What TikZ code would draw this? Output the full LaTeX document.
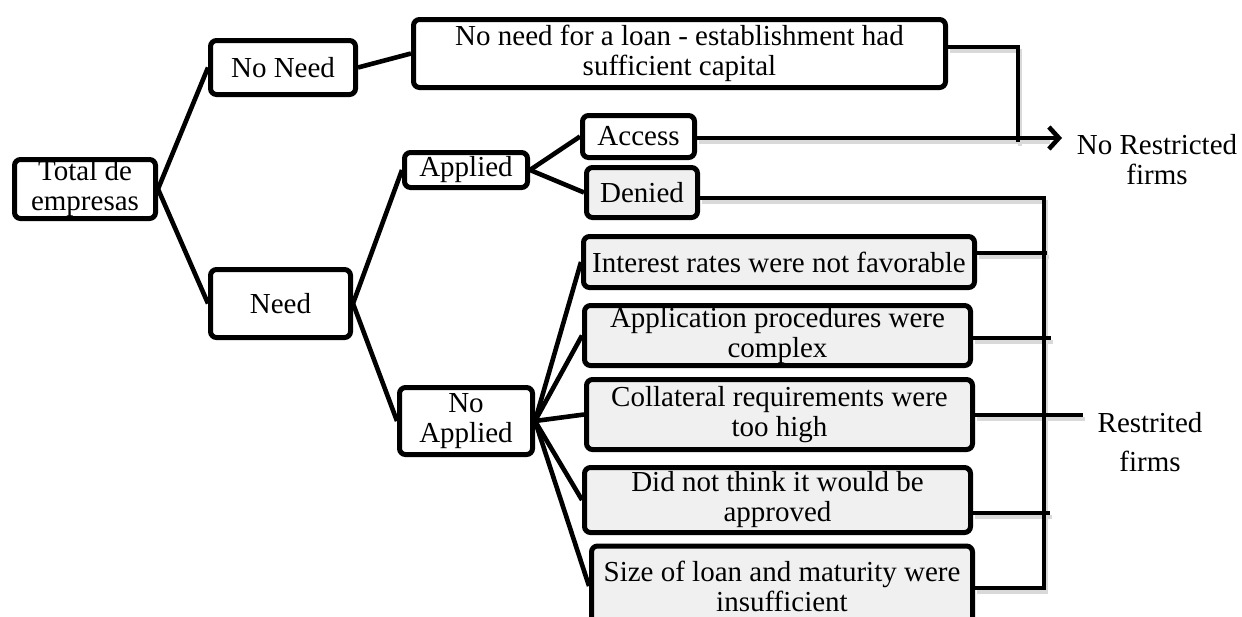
\documentclass[tikz,border=0pt]{standalone}
\usepackage{fontspec}
\setmainfont{Liberation Serif}
\usetikzlibrary{arrows.meta}
\tikzset{
 box/.style={draw, line width=5pt, rounded corners=6pt, inner sep=0pt, align=center, font=\fontsize{29}{30}\selectfont},
 graybox/.style={box, fill=black!6},
 conn/.style={line width=4.6pt},
 shadowline/.style={line width=4.6pt, draw=black!15},
 lbl/.style={align=center, font=\fontsize{29}{30}\selectfont, inner sep=0pt},
}
\begin{document}
\begin{tikzpicture}[x=1pt,y=-1pt]
\useasboundingbox (0,0) rectangle (1242,616);
\clip (0,0) rectangle (1242,616);
% nodes
\node[box, minimum width=141pt, minimum height=59pt] (total) at (85,189) {Total de\\empresas};
\node[box, minimum width=145pt, minimum height=54pt] (noneed) at (283,67.5) {No Need};
\node[box, minimum width=140pt, minimum height=68pt] (need) at (280.5,303.5) {Need};
\node[box, minimum width=532pt, minimum height=68pt] (loanbox) at (679.5,53.5) {No need for a loan - establishment had\\sufficient capital};
\node[box, minimum width=123pt, minimum height=35pt] (applied) at (466,170) {Applied};
\node[box, minimum width=112pt, minimum height=42pt] (access) at (638.5,136.5) {Access};
\node[graybox, minimum width=111pt, minimum height=50pt] (denied) at (642,192.5) {Denied};
\node[box, minimum width=133pt, minimum height=67pt] (noapplied) at (466,421) {No\\Applied};
\node[graybox, minimum width=391pt, minimum height=51pt] (interest) at (779,262) {Interest rates were not favorable};
\node[graybox, minimum width=386pt, minimum height=60pt] (application) at (777.5,335.5) {Application procedures were\\complex};
\node[graybox, minimum width=386pt, minimum height=70pt] (collateral) at (779.5,414.5) {Collateral requirements were\\too high};
\node[graybox, minimum width=386pt, minimum height=65pt] (didnot) at (777.5,500) {Did not think it would be\\approved};
\node[graybox, minimum width=381pt, minimum height=80pt] (size) at (782,586) {Size of loan and maturity were\\insufficient};
\node[lbl] (nrf) at (1157,160) {No Restricted\\firms};
\node[lbl, font=\fontsize{29}{39}\selectfont] (rf) at (1150,442.5) {Restrited\\firms};
% coordinates
\coordinate (nrA) at (1018,47);
\coordinate (nrB) at (1018,142);
\coordinate (tip) at (1062,138);
\coordinate (rTop) at (1044,198);
\coordinate (rBot) at (1044,588);
\coordinate (rI) at (1047,253);
\coordinate (rA) at (1051,338);
\coordinate (rC) at (1083,415);
\coordinate (rD) at (1050,513);
% tree connectors
\draw[conn] (total.east) -- (noneed.west);
\draw[conn] (total.east) -- (need.west);
\draw[conn] (noneed.east) -- (loanbox.west);
\draw[conn] (need.east) -- (applied.west);
\draw[conn] (need.east) -- (noapplied.west);
\draw[conn] (applied.east) -- (access.west);
\draw[conn] (applied.east) -- (denied.west);
\draw[conn] (noapplied.east) -- (interest.west);
\draw[conn] (noapplied.east) -- (application.west);
\draw[conn] (noapplied.east) -- (collateral.west);
\draw[conn] (noapplied.east) -- (didnot.west);
\draw[conn] (noapplied.east) -- (size.west);
% shadows of right-side connectors
\begin{scope}[transform canvas={shift={(2pt,-4pt)}}]
\draw[shadowline] (loanbox.east |- nrA) -- (nrA) -- (nrB);
\draw[shadowline] (access.east |- tip) -- ([xshift=-14pt]tip);
\draw[shadowline] (denied.east |- rTop) -- (rTop) -- (rBot) -- (size.east |- rBot);
\draw[shadowline] (interest.east |- rI) -- (rI);
\draw[shadowline] (application.east |- rA) -- (rA);
\draw[shadowline] (collateral.east |- rC) -- (rC);
\draw[shadowline] (didnot.east |- rD) -- (rD);
\end{scope}
% right-side connectors
\draw[conn] (loanbox.east |- nrA) -- (nrA) -- (nrB);
\draw[conn, -{Straight Barb[length=10pt,width=22pt]}] (access.east |- tip) -- (tip);
\draw[conn] (denied.east |- rTop) -- (rTop) -- (rBot) -- (size.east |- rBot);
\draw[conn] (interest.east |- rI) -- (rI);
\draw[conn] (application.east |- rA) -- (rA);
\draw[conn] (collateral.east |- rC) -- (rC);
\draw[conn] (didnot.east |- rD) -- (rD);
\end{tikzpicture}
\end{document}
